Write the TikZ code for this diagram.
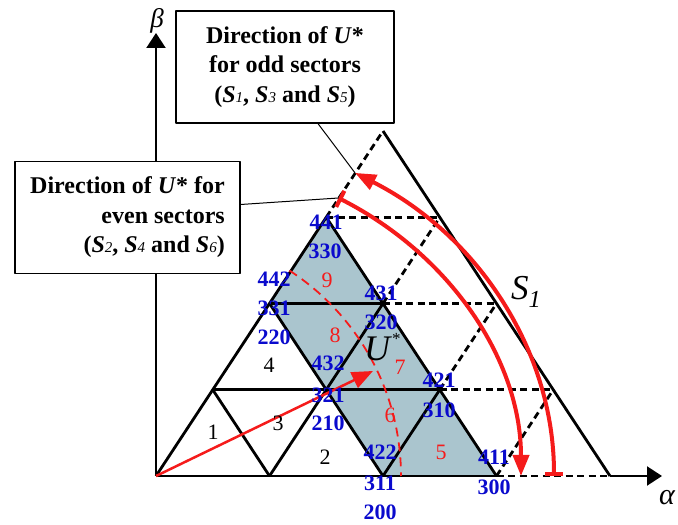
\documentclass[tikz,border=0pt]{standalone}
\usepackage{fontspec}
\setmainfont{Liberation Serif}
\usepackage{xcolor}
\usepackage{tikz}
\usetikzlibrary{arrows.meta}
\definecolor{svRed}{HTML}{F51B1B}
\definecolor{svBlue}{HTML}{0A0ACD}
\definecolor{svFill}{HTML}{AAC5CE}
\newcommand{\secS}[1]{\textit{S}{\mdseries\itshape\fontsize{15}{15}\selectfont #1}}
\tikzset{
  sv diagram/.style={x=1pt, y=1pt, line join=round},
  sv grid/.style={draw=black, line width=2.8pt},
  sv dashes/.style={sv grid, dash pattern=on 7pt off 4.5pt},
  sv axis/.style={-{Triangle[length=15pt,width=19pt]}, draw=black, line width=2.2pt},
  sv state/.style={font=\fontsize{22}{22}\selectfont\bfseries, text=svBlue, inner sep=0pt},
  sv sector/.style={font=\fontsize{22}{22}\selectfont, inner sep=0pt},
  sv sub/.style={sv sector, text=svRed},
  sv box/.style={draw=black, line width=1.2pt, fill=white, minimum height=112pt,
    font=\fontsize{24}{29.5}\selectfont\bfseries, inner sep=0pt},
  sv callout/.style={draw=black, line width=1pt},
  sv rotation/.style={draw=svRed, line width=4pt,
    {Bar[width=18pt,line width=4pt]}-{Triangle[length=21pt,width=16pt]}},
  sv vector/.style={-{Triangle[length=21pt,width=17pt]}, draw=svRed, line width=2.5pt},
  sv locus/.style={draw=svRed, line width=1.8pt, dash pattern=on 9pt off 6pt},
  sv big/.style={inner sep=0pt, anchor=base west}
}
\begin{document}
\begin{tikzpicture}[sv diagram]
\useasboundingbox (0,0) rectangle (678,525);
% lattice points: one unit = one side of a small triangle
\begin{scope}[shift={(156,49)}, x={(113.5pt,0pt)}, y={(56.75pt,86.25pt)}]
  \foreach \i/\j in {0/0,1/0,2/0,3/0,4/0,0/1,1/1,2/1,3/1,0/2,1/2,2/2,0/3,1/3,0/4}
    \coordinate (p\i\j) at (\i,\j);
\end{scope}
\coordinate (alphatip) at (662,49);
\coordinate (betatip) at (156,492);
\coordinate (utip) at (373,154);
\coordinate (eventop) at ([shift={(60:365 and 321)}]p00);
\coordinate (oddtip) at ([shift={(60:398 and 350)}]p00);

\fill[svFill] (p03) -- (p02) -- (p20) -- (p30) -- cycle;

% solid lattice
\draw[sv grid] (p00) -- (p30) (p01) -- (p21) (p02) -- (p12);
\draw[sv grid] (p00) -- (p03) (p10) -- (p12) (p20) -- (p21);
\draw[sv grid] (p01) -- (p10) (p02) -- (p20) (p03) -- (p30) (p04) -- (p40);
% dashed part of sector S1
\draw[sv dashes] (p30) -- (p40) (p21) -- (p31) (p12) -- (p22) (p03) -- (p13);
\draw[sv dashes] (p03) -- (p04) (p12) -- (p13) (p21) -- (p22) (p30) -- (p31);

\draw[sv axis] (p40) -- (alphatip);
\draw[sv axis] (p00) -- (betatip);
\node[font=\fontsize{30}{30}\selectfont\itshape] (alphalabel) at (667,27) {α};
\node[font=\fontsize{27}{27}\selectfont\itshape] (betalabel) at (157,504) {β};

\draw[sv locus] ([shift={(57:245)}]p00) arc[start angle=57, end angle=0, radius=245];
\draw[sv vector] (p00) -- (utip);

\draw[sv rotation] (eventop) arc[start angle=60, end angle=0, x radius=365, y radius=321];
\draw[sv rotation] ([shift={(0:398 and 350)}]p00)
  arc[start angle=0, end angle=60, x radius=398, y radius=350];

\foreach \name/\x/\y in {441/326/303, 330/325/274, 442/274/246, 331/274/217, 220/274/188,
  431/381/232, 320/381/203, 432/328/162, 321/328/130, 210/328/102,
  422/380/73, 311/380/42, 200/380/13, 421/439/145, 310/439/115, 411/494/68, 300/494/38}
  \node[sv state] (s\name) at (\x,\y) {\name};
\foreach \k/\x/\y in {9/327/245, 8/335/190, 7/400/158, 6/390/110, 5/441/73}
  \node[sv sub] (t\k) at (\x,\y) {\k};
\foreach \k/\x/\y in {1/213/93, 2/325/68, 3/278/102, 4/269/160}
  \node[sv sector] (t\k) at (\x,\y) {\k};

\node[sv big, font=\fontsize{36}{36}\selectfont] (ustar) at (364,164)
  {\textit{U}{\fontsize{17}{17}\selectfont\raisebox{16pt}{*}}};
\node[sv big, font=\fontsize{35}{35}\selectfont] (sone) at (511,225) {\textit{S}\textsubscript{\textit{1}}};

\node[sv box, minimum width=218pt, align=center] (oddbox) at (285,458)
  {Direction of \textit{U}*\\for odd sectors\\(\secS{1}, \secS{3} and \secS{5})};
\node[sv box, minimum width=225pt, align=right] (evenbox) at (127.5,307.5)
  {Direction of \textit{U}* for\\even sectors\\(\secS{2}, \secS{4} and \secS{6})};
\draw[sv callout] ([xshift=33pt]oddbox.south) -- (oddtip);
\draw[sv callout] ([yshift=13pt]evenbox.east) -- (eventop);
\end{tikzpicture}
\end{document}
